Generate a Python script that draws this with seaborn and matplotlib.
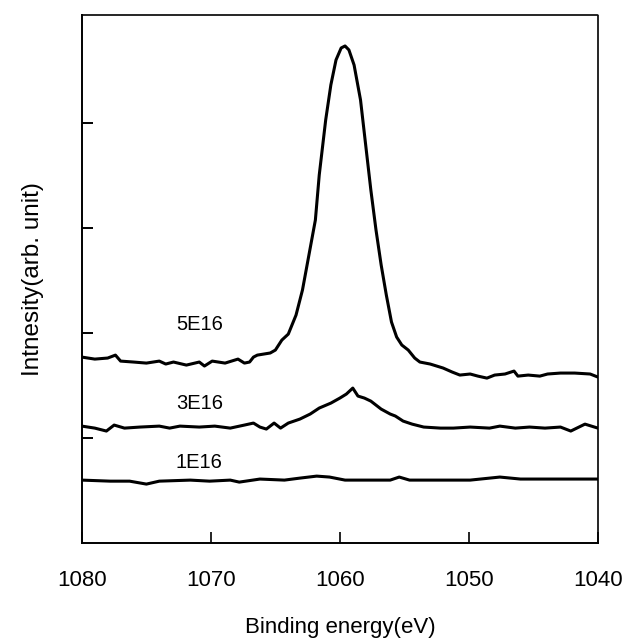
import numpy as np
import pandas as pd
import matplotlib
matplotlib.use("Agg")
import matplotlib.pyplot as plt
import seaborn as sns

# ---- data ----
e_5e16 = [1080.0, 1079.0, 1078.0, 1077.4, 1077.0, 1076.0, 1075.0, 1074.0, 1073.5, 1072.9,
          1071.9, 1070.9, 1070.5, 1069.9, 1068.9, 1067.9, 1067.4, 1067.0, 1066.7, 1066.4,
          1065.4, 1065.0, 1064.5, 1064.0, 1063.4, 1062.9, 1062.4, 1061.9, 1061.6, 1061.1,
          1060.7, 1060.3, 1059.9, 1059.6, 1059.3, 1058.9, 1058.4, 1058.0, 1057.6, 1057.2,
          1056.8, 1056.4, 1056.0, 1055.6, 1055.2, 1054.7, 1054.2, 1053.8, 1053.0, 1052.0,
          1051.3, 1050.7, 1049.9, 1049.3, 1048.6, 1048.0, 1047.2, 1046.5, 1046.2, 1045.4,
          1044.5, 1043.9, 1042.9, 1041.8, 1040.6, 1040.0]
i_5e16 = [1.771, 1.752, 1.762, 1.790, 1.733, 1.724, 1.714, 1.733, 1.705, 1.724,
          1.695, 1.724, 1.686, 1.733, 1.714, 1.752, 1.714, 1.724, 1.771, 1.790,
          1.810, 1.838, 1.933, 1.990, 2.171, 2.410, 2.743, 3.076, 3.505, 4.029,
          4.362, 4.600, 4.714, 4.733, 4.695, 4.552, 4.219, 3.790, 3.362, 2.981,
          2.648, 2.362, 2.105, 1.962, 1.886, 1.838, 1.762, 1.724, 1.705, 1.667,
          1.629, 1.600, 1.610, 1.590, 1.571, 1.600, 1.610, 1.638, 1.590, 1.600,
          1.590, 1.610, 1.619, 1.619, 1.610, 1.581]

e_3e16 = [1080.0, 1079.0, 1078.1, 1077.5, 1076.7, 1075.5, 1074.0, 1073.2, 1072.4, 1070.9,
          1069.7, 1068.5, 1067.4, 1066.7, 1066.2, 1065.7, 1065.1, 1064.6, 1064.0, 1063.1,
          1062.3, 1061.6, 1060.7, 1060.0, 1059.5, 1059.0, 1058.6, 1058.1, 1057.6, 1056.8,
          1056.1, 1055.7, 1055.1, 1054.4, 1053.5, 1052.2, 1051.2, 1049.9, 1048.4, 1047.6,
          1046.4, 1045.3, 1044.1, 1042.9, 1042.1, 1041.0, 1040.0]
i_3e16 = [1.114, 1.095, 1.067, 1.124, 1.095, 1.105, 1.114, 1.095, 1.114, 1.105,
          1.114, 1.095, 1.124, 1.143, 1.105, 1.086, 1.143, 1.095, 1.143, 1.181,
          1.229, 1.286, 1.333, 1.381, 1.419, 1.476, 1.400, 1.381, 1.352, 1.276,
          1.229, 1.210, 1.162, 1.133, 1.105, 1.095, 1.095, 1.105, 1.095, 1.114,
          1.095, 1.105, 1.095, 1.105, 1.067, 1.133, 1.095]

e_1e16 = [1080.0, 1077.8, 1076.3, 1075.0, 1074.0, 1071.6, 1070.1, 1068.5, 1067.8, 1066.2,
          1064.3, 1063.1, 1061.8, 1060.8, 1059.6, 1057.7, 1056.1, 1055.4, 1054.6, 1052.2,
          1049.9, 1047.6, 1046.0, 1043.7, 1041.4, 1040.0]
i_1e16 = [0.600, 0.590, 0.590, 0.562, 0.590, 0.600, 0.590, 0.600, 0.581, 0.610,
          0.600, 0.619, 0.638, 0.629, 0.600, 0.600, 0.600, 0.629, 0.600, 0.600,
          0.600, 0.629, 0.610, 0.610, 0.610, 0.610]

series_names = ["5E16", "3E16", "1E16"]
label_pos_e = [1070.9, 1070.9, 1070.9]
label_pos_i = [2.08, 1.33, 0.77]

x_ticks = [1080, 1070, 1060, 1050, 1040]
y_ticks = [1, 2, 3, 4]

# ---- plotting ----
sns.set_style("white")
plt.rcParams["font.family"] = ["Liberation Sans", "DejaVu Sans"]
plt.rcParams["text.color"] = "black"
plt.rcParams["axes.labelcolor"] = "black"

fig = plt.figure(figsize=(6.3, 6.42), dpi=100)
ax = fig.add_axes([0.130, 0.154, 0.819, 0.823])

df = pd.concat([
    pd.DataFrame({"E": e_5e16, "I": i_5e16, "s": "5E16"}),
    pd.DataFrame({"E": e_3e16, "I": i_3e16, "s": "3E16"}),
    pd.DataFrame({"E": e_1e16, "I": i_1e16, "s": "1E16"}),
])
for name in series_names:
    sub = df[df["s"] == name]
    sns.lineplot(data=sub, x="E", y="I", sort=False, color="black",
                 linewidth=2.2, ax=ax, legend=False)

for name, xe, yi in zip(series_names, label_pos_e, label_pos_i):
    ax.text(xe, yi, name, ha="center", va="center", fontsize=14.5, color="black")

ax.set_xlim(1080, 1040)
ax.set_ylim(0, 5.03)
ax.set_xticks(x_ticks)
ax.set_xticklabels([str(t) for t in x_ticks], fontsize=16)
ax.set_yticks(y_ticks)
ax.set_yticklabels([])
ax.tick_params(axis="x", bottom=True, direction="in", length=8, width=1.2,
               pad=19, colors="black", labelcolor="black")
ax.tick_params(axis="y", left=True, direction="in", length=8, width=1.4,
               colors="black")

ax.set_xlabel("Binding energy(eV)", fontsize=16, labelpad=19, color="black")
ax.set_ylabel("Intnesity(arb. unit)", fontsize=17.5, labelpad=24, color="black")

for side in ["left", "bottom"]:
    ax.spines[side].set_visible(True)
    ax.spines[side].set_color("black")
    ax.spines[side].set_linewidth(1.4)
for side in ["top", "right"]:
    ax.spines[side].set_visible(True)
    ax.spines[side].set_color("black")
    ax.spines[side].set_linewidth(1.2)
    ax.spines[side].set_linestyle((0, (1.5, 1.0)))

fig.savefig("out.png", dpi=100)
